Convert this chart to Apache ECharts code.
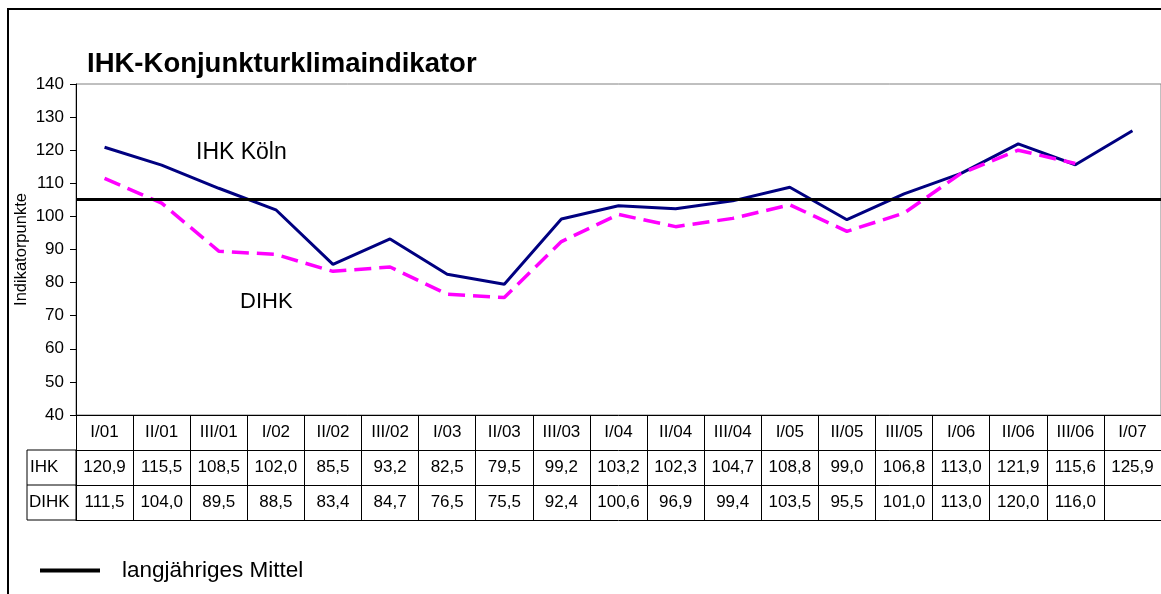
<!DOCTYPE html>
<html>
<head>
<meta charset="utf-8">
<script src="https://cdn.jsdelivr.net/npm/echarts@6/dist/echarts.min.js"></script>
<style>
  html, body { margin: 0; padding: 0; background: #fff; }
  #chart { width: 1161px; height: 594px; }
</style>
</head>
<body>
<div id="chart"></div>
<script>
const categories = ['I/01', 'II/01', 'III/01', 'I/02', 'II/02', 'III/02', 'I/03', 'II/03', 'III/03',
    'I/04', 'II/04', 'III/04', 'I/05', 'II/05', 'III/05', 'I/06', 'II/06', 'III/06', 'I/07'];
const ihkValues = [120.9, 115.5, 108.5, 102.0, 85.5, 93.2, 82.5, 79.5, 99.2,
    103.2, 102.3, 104.7, 108.8, 99.0, 106.8, 113.0, 121.9, 115.6, 125.9];
const dihkValues = [111.5, 104.0, 89.5, 88.5, 83.4, 84.7, 76.5, 75.5, 92.4,
    100.6, 96.9, 99.4, 103.5, 95.5, 101.0, 113.0, 120.0, 116.0, null];
const meanValue = 105.3;
const rowLabels = ['IHK', 'DIHK'];
const yMin = 40;
const yMax = 140;
const yStep = 10;

const font = 'Liberation Sans, Arial, sans-serif';

function fmt(v) {
    if (v === null || v === undefined) {
        return '';
    }
    return v.toFixed(1).replace('.', ',');
}

// one category axis per table row, stacked under the plot
function tableAxis(offset, values, showLabel) {
    return {
        type: 'category',
        data: categories,
        position: 'bottom',
        offset: offset,
        boundaryGap: true,
        axisLine: {show: true, lineStyle: {color: '#000', width: 1}},
        axisTick: {show: showLabel, length: 35, interval: 0, lineStyle: {color: '#000', width: 1}},
        axisLabel: {
            show: showLabel,
            interval: 0,
            margin: 9,
            color: '#000',
            fontFamily: font,
            fontSize: 17,
            formatter: function (value, index) {
                return values ? fmt(values[index]) : value;
            }
        },
        splitLine: {show: false}
    };
}

const chart = echarts.init(document.getElementById('chart'));

chart.setOption({
    animation: false,
    backgroundColor: '#fff',
    title: {
        text: 'IHK-Konjunkturklimaindikator',
        left: 87,
        top: 50,
        padding: 0,
        textStyle: {fontFamily: font, fontSize: 27.5, fontWeight: 'bold', color: '#000'}
    },
    legend: {
        data: ['langjähriges Mittel'],
        left: 40,
        top: 559,
        padding: 0,
        icon: 'rect',
        itemWidth: 60,
        itemHeight: 4,
        textStyle: {fontFamily: font, fontSize: 22.5, color: '#000', padding: [0, 0, 0, 17]}
    },
    grid: {
        left: 76,
        top: 84,
        right: -8,
        bottom: 179,
        show: true,
        borderColor: '#808080',
        borderWidth: 1,
        backgroundColor: '#fff'
    },
    xAxis: [
        tableAxis(0, null, true),
        tableAxis(35, ihkValues, true),
        tableAxis(70, dihkValues, true),
        tableAxis(105, null, false)
    ],
    yAxis: {
        type: 'value',
        min: yMin,
        max: yMax,
        interval: yStep,
        name: 'Indikatorpunkte',
        nameLocation: 'middle',
        nameGap: 46,
        nameMoveOverlap: false,
        nameTextStyle: {fontFamily: font, fontSize: 16.5, color: '#000'},
        axisLine: {show: true, lineStyle: {color: '#000', width: 1}},
        axisTick: {show: true, length: 6, lineStyle: {color: '#000'}},
        axisLabel: {margin: 12, color: '#000', fontFamily: font, fontSize: 17},
        splitLine: {show: false}
    },
    series: [
        {
            name: 'IHK',
            type: 'line',
            data: ihkValues,
            showSymbol: false,
            lineStyle: {color: '#000080', width: 3}
        },
        {
            name: 'DIHK',
            type: 'line',
            data: dihkValues,
            showSymbol: false,
            lineStyle: {color: '#ff00ff', width: 3.5, type: [17, 8]}
        },
        {
            name: 'langjähriges Mittel',
            type: 'line',
            data: [],
            itemStyle: {color: '#000'},
            lineStyle: {color: '#000', width: 3},
            markLine: {
                silent: true,
                symbol: ['none', 'none'],
                label: {show: false},
                lineStyle: {color: '#000', width: 3, type: 'solid'},
                data: [{yAxis: meanValue}]
            }
        }
    ],
    graphic: [
        {
            type: 'rect',
            shape: {x: 8, y: 9, width: 1300, height: 800},
            style: {fill: 'none', stroke: '#000', lineWidth: 2},
            z: 100
        },
        {
            type: 'rect',
            shape: {x: 27, y: 450, width: 49, height: 70},
            style: {fill: 'none', stroke: '#000', lineWidth: 1}
        },
        {
            type: 'line',
            shape: {x1: 27, y1: 485, x2: 76, y2: 485},
            style: {stroke: '#000', lineWidth: 1}
        },
        {
            type: 'text',
            left: 30,
            top: 459,
            style: {text: rowLabels[0], fontFamily: font, fontSize: 17, fill: '#000'}
        },
        {
            type: 'text',
            left: 29,
            top: 494,
            style: {text: rowLabels[1], fontFamily: font, fontSize: 17, fill: '#000'}
        },
        {
            type: 'text',
            left: 196,
            top: 141,
            style: {text: 'IHK Köln', fontFamily: font, fontSize: 23, fill: '#000'}
        },
        {
            type: 'text',
            left: 240,
            top: 291,
            style: {text: 'DIHK', fontFamily: font, fontSize: 22, fill: '#000'}
        }
    ]
});
</script>
</body>
</html>
